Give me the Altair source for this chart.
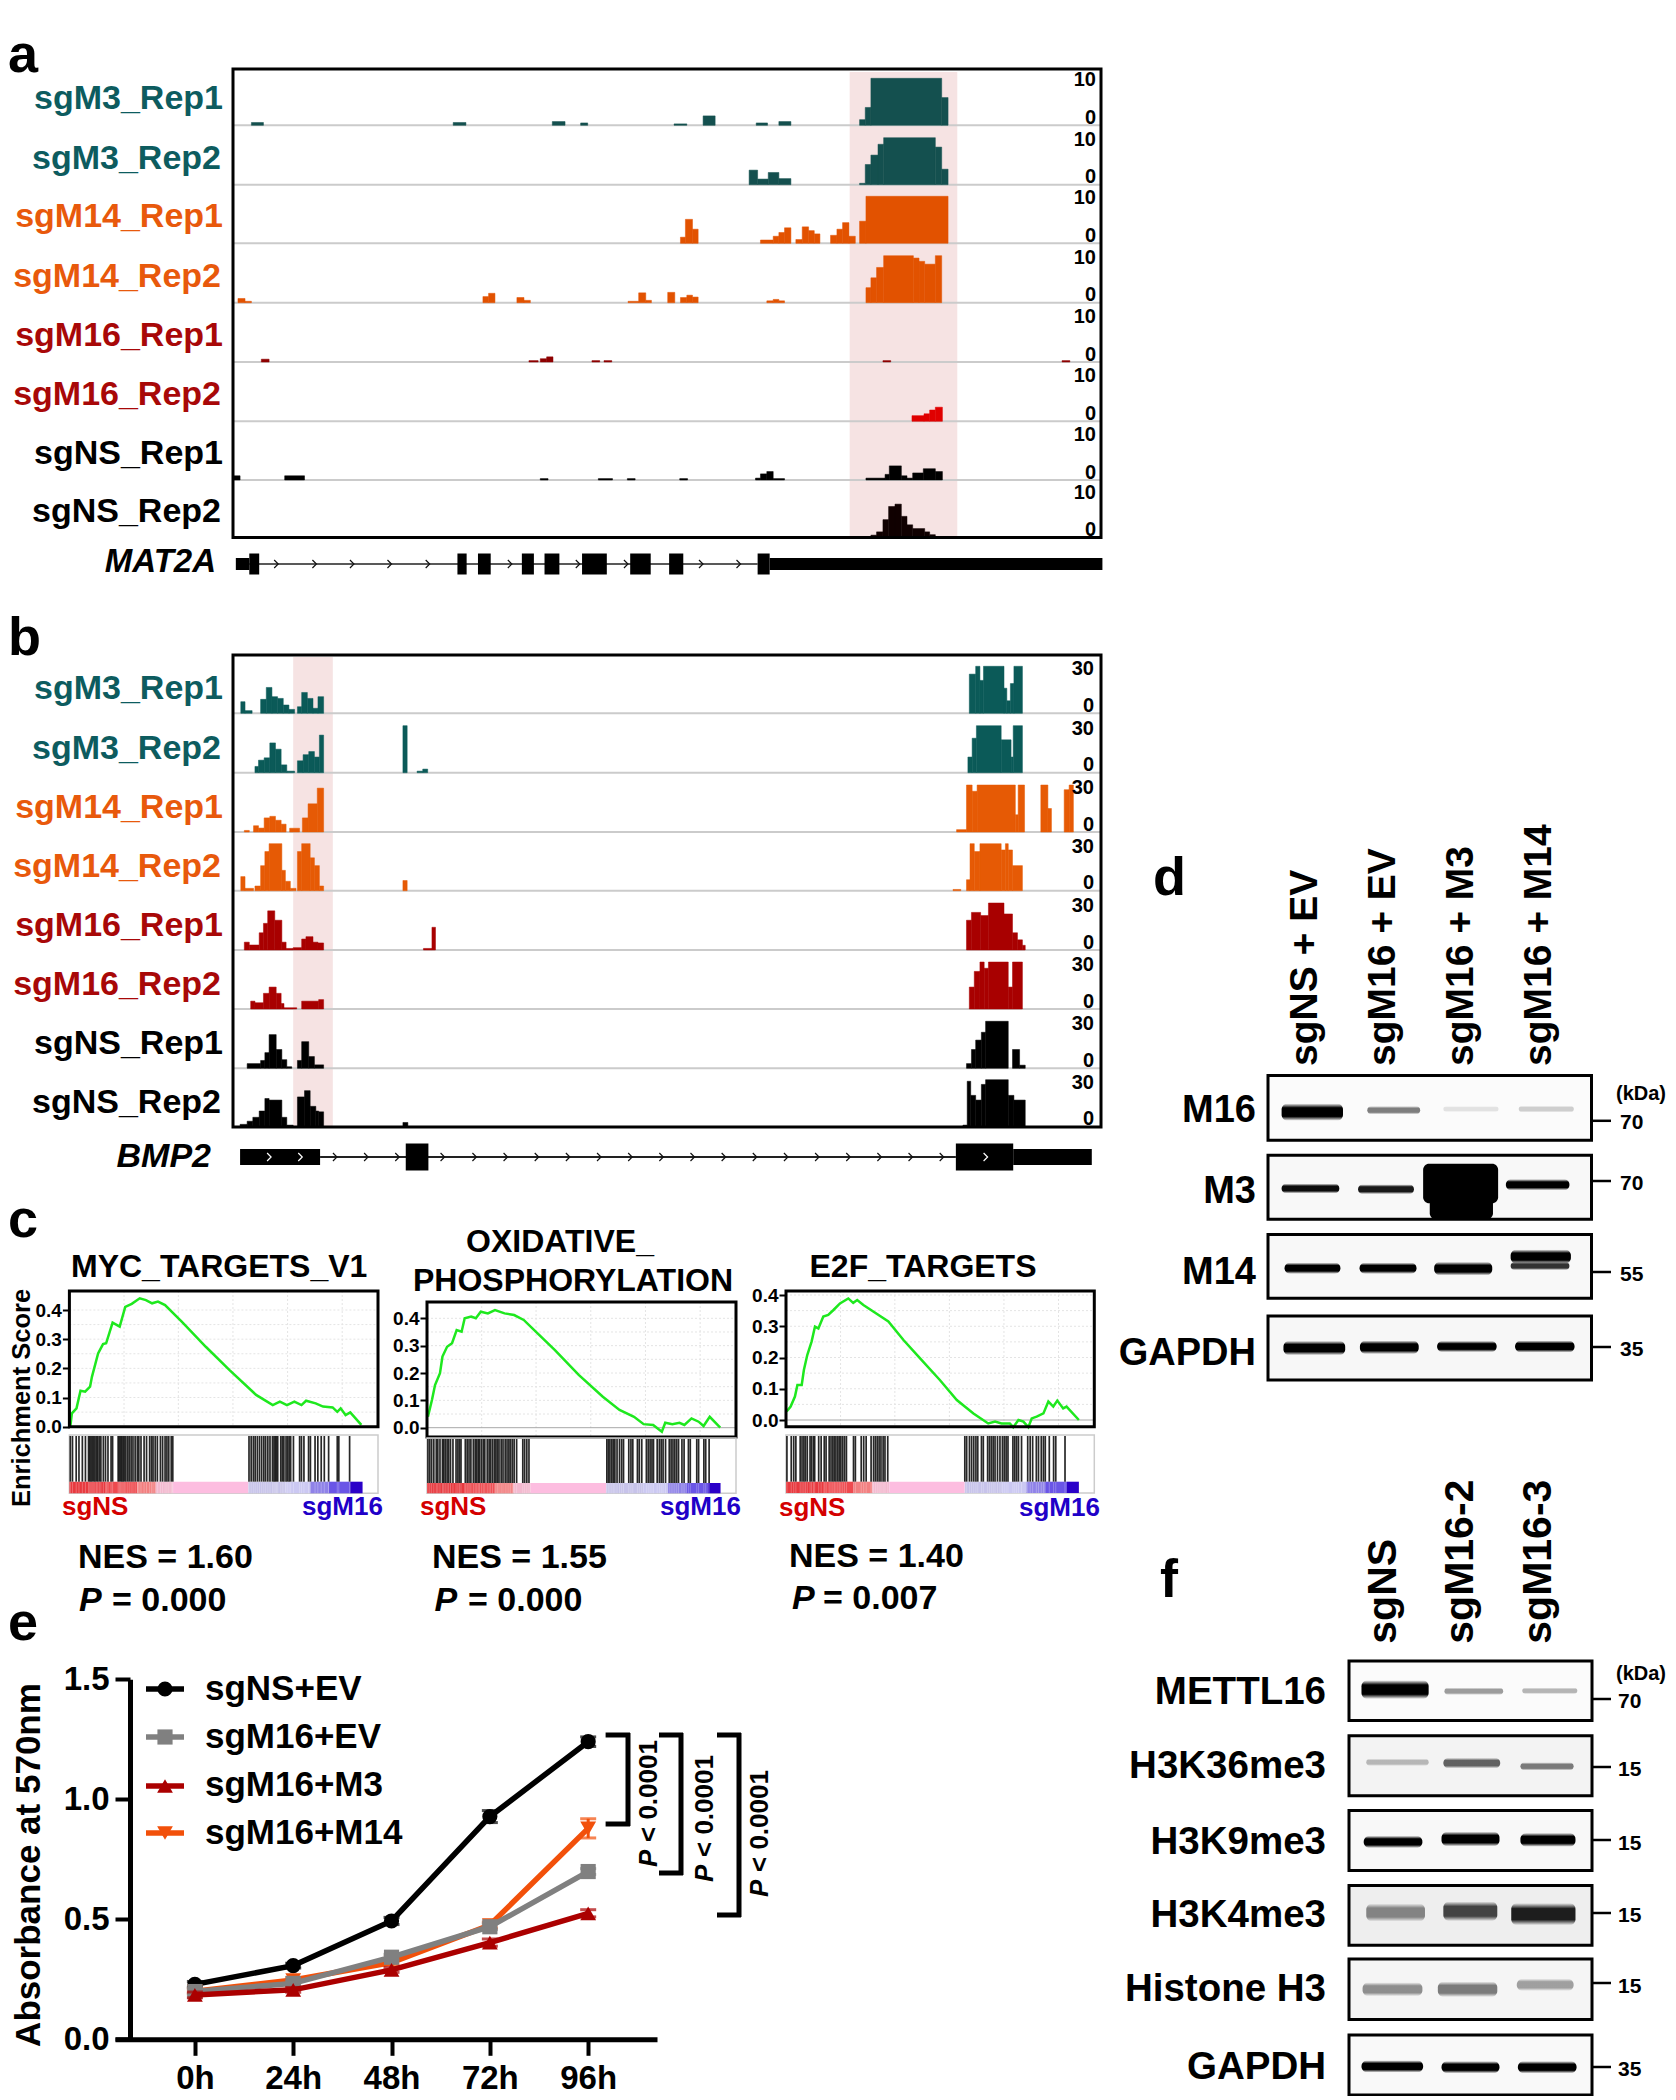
import altair as alt
import pandas as pd

W, H = 1660, 2088
FONT = "Liberation Sans"

TRACK_NAMES = ["sgM3_Rep1", "sgM3_Rep2", "sgM14_Rep1", "sgM14_Rep2", "sgM16_Rep1", "sgM16_Rep2", "sgNS_Rep1", "sgNS_Rep2"]
LABEL_COLORS = ["#0d5c5f", "#0d5c5f", "#e8590c", "#e8590c", "#a80808", "#a80808", "#000000", "#000000"]

# (start, end, signal) along the locus window, 0-10 scale
A_M3_1 = [(355,372,.6),(640,658,.6),(780,798,.8),(820,830,.5),(952,970,.3),(993,1010,2),(1068,1084,.5),(1100,1117,.8),(1214,1222,1.2),(1222,1230,3.8),(1230,1330,10),(1330,1339,5.9)]
A_M3_2 = [(1058,1070,3.1),(1070,1085,1.2),(1085,1100,2.6),(1100,1117,1.3),(1214,1222,.3),(1222,1230,4.3),(1230,1240,6.3),(1240,1248,8.6),(1248,1321,10),(1321,1330,8),(1330,1339,3.3)]
A_M14_1 = [(961,968,1.3),(968,978,5.1),(978,986,3),(1074,1092,.7),(1092,1100,1.5),(1100,1108,2.3),(1108,1117,3.3),(1124,1133,.8),(1133,1142,3.5),(1142,1150,2.7),(1150,1158,2),(1173,1182,1.7),(1182,1190,3),(1190,1199,4.4),(1199,1208,1.5),(1214,1223,4.7),(1223,1339,10)]
A_M14_2 = [(336,346,.9),(346,355,.3),(682,690,1.3),(690,699,2),(730,740,1.1),(740,749,.5),(887,902,.3),(902,912,2.1),(912,920,.5),(943,953,2.2),(961,970,1.1),(970,978,1.6),(978,986,1.2),(1083,1092,.4),(1092,1100,.7),(1100,1108,.4),(1223,1230,3.2),(1230,1238,5.3),(1238,1248,7.5),(1248,1290,10),(1290,1298,9.5),(1298,1306,8.8),(1306,1321,8.2),(1321,1330,10)]
A_M16_1 = [(369,380,.6),(747,760,.3),(763,772,.7),(772,781,1.1),(836,847,.3),(853,864,.3),(1247,1258,.3),(1500,1511,.3)]
A_M16_2 = [(1288,1305,1.2),(1305,1313,1.6),(1313,1321,2.4),(1321,1331,3)]
A_NS_1 = [(329,339,.9),(402,430,.9),(763,774,.3),(845,865,.3),(886,897,.3),(960,971,.3),(1067,1074,.4),(1074,1083,1.3),(1083,1092,1.8),(1092,1108,.3),(1223,1250,.4),(1250,1256,1.2),(1256,1273,3),(1273,1281,.9),(1281,1289,.4),(1289,1304,1.5),(1304,1321,2.4),(1321,1331,1.8)]
A_NS_2 = [(428,437,.2),(445,455,.2),(1230,1238,.5),(1238,1247,1.2),(1247,1255,3.8),(1255,1264,6.6),(1264,1273,7.1),(1273,1281,4.5),(1281,1289,2.7),(1289,1306,1.9),(1306,1313,1.2),(1313,1321,.6)]
A_TRACKS = [A_M3_1, A_M3_2, A_M14_1, A_M14_2, A_M16_1, A_M16_2, A_NS_1, A_NS_2]
A_FILLS = ["#14504f", "#14504f", "#e25200", "#e25200", "#8e0000", "#e00000", "#000000", "#100000"]

# (start, end, signal), 0-30 scale
B_M3_1 = [(340,346,7.4),(346,356,1.7),(368,376,8.9),(376,384,16.5),(384,392,10.6),(392,400,9.5),(400,408,5.3),(408,416,2.5),(420,426,4.2),(426,434,13.3),(434,442,9.5),(442,449,3.2),(449,457,10.6),(1369,1378,25),(1378,1384,30),(1384,1389,21),(1389,1418,30),(1418,1422,16),(1422,1427,8),(1427,1432,19),(1432,1444,30)]
B_M3_2 = [(360,365,4),(365,373,8),(373,381,9.5),(381,389,19),(389,397,15),(397,405,5),(405,416,1),(420,428,7.6),(428,436,11.5),(436,444,13.5),(444,451,10),(451,457,24),(569,575,30),(589,597,1),(597,604,2.3),(1367,1373,10),(1373,1379,22),(1379,1414,30),(1414,1428,21),(1428,1431,10),(1431,1444,30)]
B_M14_1 = [(345,352,1),(358,365,4),(365,373,2.5),(373,381,9),(381,389,10),(389,397,7.5),(397,404,5),(409,423,2.4),(427,435,9),(435,448,18),(448,457,28),(1351,1365,1.5),(1365,1373,30),(1373,1380,26),(1380,1434,30),(1434,1438,11),(1438,1447,30),(1470,1480,30),(1480,1485,15),(1503,1510,27),(1510,1516,30)]
B_M14_2 = [(340,346,9),(346,358,1.5),(360,368,3),(368,374,16),(374,380,25),(380,398,30),(398,403,13),(403,410,6),(410,418,1.5),(420,426,25),(426,438,30),(438,444,21),(444,451,16),(451,457,3),(569,575,6.5),(1346,1357,.8),(1365,1370,7),(1370,1376,30),(1376,1384,25),(1384,1414,30),(1414,1420,26),(1420,1424,30),(1424,1430,26),(1430,1444,16)]
B_M16_1 = [(345,352,5),(352,366,3.2),(366,372,11),(372,378,17),(378,388,25),(388,398,19),(398,404,5),(404,414,1),(414,426,1.5),(426,432,7),(432,442,8.5),(442,449,5),(449,457,4.5),(598,610,1),(610,615,14.5),(1365,1372,19),(1372,1385,24),(1385,1396,22),(1396,1418,30),(1418,1430,23),(1430,1437,11),(1437,1444,6.5),(1444,1448,3)]
B_M16_2 = [(354,360,5),(360,372,4),(372,380,10),(380,390,14),(390,397,10),(397,401,3.5),(401,419,.8),(426,450,5),(450,457,6),(1369,1376,14),(1376,1384,24),(1384,1390,30),(1390,1396,26),(1396,1424,30),(1424,1430,14),(1430,1444,30)]
B_NS_1 = [(349,368,3),(368,374,5),(374,380,10),(380,390,21.5),(390,398,12),(398,405,5.5),(405,412,1),(420,426,5),(426,436,17),(436,444,7.5),(444,457,2.2),(1365,1372,3),(1372,1378,12),(1378,1386,18),(1386,1392,23),(1392,1424,30),(1430,1440,12),(1440,1448,2)]
B_NS_2 = [(339,349,1.5),(349,357,3.5),(357,366,6),(366,374,10),(374,380,18),(380,398,17),(398,405,6),(405,414,1),(420,430,19),(430,438,23),(438,446,13),(446,450,10),(450,457,9.5),(569,576,2.7),(1360,1366,1),(1366,1371,29),(1371,1378,20),(1378,1386,17),(1386,1392,27),(1392,1424,30),(1424,1432,20),(1432,1448,17)]
B_TRACKS = [B_M3_1, B_M3_2, B_M14_1, B_M14_2, B_M16_1, B_M16_2, B_NS_1, B_NS_2]
B_FILLS = ["#0b5a58", "#0b5a58", "#e65a05", "#e65a05", "#a80000", "#a80000", "#000000", "#000000"]

MAT2A_THIN = [(333,352),(1087,1557)]
MAT2A_EXON = [(352,366),(646,659),(675,693),(737,754),(769,790),(822,857),(890,919),(945,965),(1070,1087)]
MAT2A_CHEV = [390,444,497,550,604,720,816,884,990,1043]
BMP2_THIN = [(339,452),(1431,1542)]
BMP2_EXON = [(573,605),(1350,1431)]
BMP2_CHEV = [473,517,561,625,670,714,758,802,846,890,934,978,1022,1066,1110,1154,1198,1242,1286,1330]
BMP2_CHEV_W = [380,424,1392]

# GSEA: rank in list (%) and running enrichment score
MYC_RANK = [.3,.8,2.3,3.6,5.1,6.7,7.3,9.3,10.9,11.9,14,16.3,18.1,20.2,22.8,24.8,26.8,28.7,31,36.4,44.2,51.9,60.5,65.9,68.2,70.5,72.9,75.2,76.7,79.8,82.2,85.3,86.8,87.9,89.5,91,94.6]
MYC_ES = [0,.046,.063,.123,.12,.137,.171,.251,.283,.286,.357,.343,.411,.421,.44,.434,.423,.429,.417,.36,.274,.194,.109,.074,.086,.074,.086,.074,.089,.08,.069,.066,.051,.063,.04,.049,.006]
OX_RANK = [.3,1.6,2.6,4.2,5,6.5,8.1,9.6,11.2,12.2,14.3,15.8,17.4,19.7,22,25.1,28.2,31.3,35.2,41.4,49.1,56.9,62.3,67,70.1,73.2,76,77.1,79.4,81.7,83.3,85.6,87.9,89.5,91.5,94.9]
OX_ES = [.04,.101,.156,.199,.26,.296,.309,.357,.351,.4,.406,.4,.424,.418,.43,.418,.412,.394,.351,.284,.193,.113,.065,.04,.013,.01,-.015,.018,.013,.018,.01,.034,.022,.006,.04,0]
E2F_RANK = [.2,1.5,2.9,3.7,5.1,5.8,6.9,8.3,9.4,10.5,12.1,13.7,15.4,17.5,20.2,21.8,23.1,25.1,28.3,33.2,38.1,43.5,49.9,55.4,60.8,65.6,67.8,69.9,72.6,73.7,75.4,77,78.6,79.7,81.3,83.5,85.1,86.7,88,89.9,91,95]
E2F_ES = [.027,.043,.075,.112,.112,.16,.208,.251,.299,.293,.331,.336,.352,.373,.389,.375,.384,.368,.347,.315,.256,.197,.128,.064,.021,-.011,-.005,-.011,-.011,-.023,0,-.005,-.023,.005,.011,.021,.059,.043,.062,.037,.043,0]
MYC_HITS = [.3,1,2.2,3.1,4.2,5.2,6.2,6.6,7,7.4,7.9,8.3,8.8,9.2,9.7,10.2,11,11.7,12.5,13.5,14,15.8,16.2,16.6,17,17.4,17.8,18.3,18.9,19.4,20,20.6,21.3,22,22.5,23.2,24.2,25,26,26.6,27.1,27.8,28.5,29.5,30.2,31,31.6,32.2,33,33.5,58.2,58.9,59.6,60.2,60.9,61.6,62.3,63,63.6,64.3,65,65.8,66.3,66.7,67.1,67.5,68.5,69,69.5,70.2,70.7,71.2,71.7,72.6,74.6,75.2,76,77.5,78.1,79.6,80.5,81.6,82.6,84,86.8,87.3,90.8]
OX_HITS = [.3,.9,1.5,2.2,3,3.5,4.2,5,5.4,5.9,6.5,7,7.6,8.4,9.4,10,10.5,11,12.4,13,13.6,14.2,15,15.6,16.1,16.6,17,17.6,18.2,18.7,19.5,20.1,20.6,21.2,21.8,22.3,22.8,23.3,24,24.6,25.3,25.9,26.5,27,27.6,28.2,29,31,31.6,32.3,33,58.2,58.7,59.2,59.8,60.3,60.8,61.5,62.3,63,63.6,65.3,66,66.6,68.1,68.7,69.5,71,71.6,72.2,72.8,73.3,74.5,75.2,75.8,76.4,77.2,78.4,79,79.6,80.2,80.8,81.4,82.5,83.2,84.6,85.2,87.3,87.9,89.6,90.2,91.3]
E2F_HITS = [.3,1.7,2.5,3.2,4.6,5.2,5.8,6.3,6.9,7.8,8.3,8.9,9.3,10.6,11.4,12.4,13,14,14.6,15.2,15.7,16.2,16.8,17.3,17.8,18.4,19,19.6,21.9,22.5,24.4,25.2,26,27.6,28.4,29,29.6,30.2,30.8,31.5,32.1,33,58,58.6,59.5,60.2,60.9,61.6,62.2,63.4,64,65.4,66,66.6,67.2,67.8,68.6,69.4,70.2,70.8,71.4,72,73.6,74.2,74.8,75.4,76.4,78.4,79.2,80,81.2,81.9,82.8,83.5,84.1,85.4,86.8,87.5,90.5]
BAR_START = [0,12,22,28,33.5,58,70,78,84,91]
BAR_END = [12,22,28,33.5,58,70,78,84,91,95]
BAR_COLOR = ["#e8393f","#ee4a4f","#f27f80","#f3b9cf","#fdbde0","#c7c3ea","#cbc8f2","#8f82e8","#6a55e6","#2a00c8"]

# Growth curves
HOURS = [0,24,48,72,96]
NS_EV = [.229,.307,.493,.928,1.24]
M16_EV = [.199,.233,.342,.469,.699]
M16_M3 = [.185,.206,.289,.403,.525]
M16_M14 = [.2,.247,.32,.476,.879]
NS_ERR = [.012,.01,.015,.025,.02]
EV_ERR = [.012,.01,.012,.012,.012]
M3_ERR = [.012,.01,.01,.015,.015]
M14_ERR = [.01,.01,.01,.012,.04]

# Blot bands: start, end, centre, thickness, density
D_BANDS = [(495,662,803,46,1),(728,872,798,22,.5),(935,1085,795,16,.1),(1140,1290,795,18,.18),
           (495,652,1006,26,.95),(703,855,1008,26,.9),(1105,1278,996,30,1),
           (503,655,1218,30,1),(707,862,1218,30,1),(910,1068,1219,36,1),(1118,1282,1187,38,1),(1118,1278,1212,22,.8),
           (500,668,1430,38,1),(708,868,1428,36,1),(918,1080,1426,30,1),(1130,1292,1426,32,1)]
F_BANDS = [(712,895,562,46,1),(938,1098,566,18,.38),(1150,1300,565,16,.28),
           (725,895,740,18,.25),(935,1090,742,26,.6),(1145,1290,750,20,.5),
           (718,878,935,30,1),(930,1088,928,36,1),(1145,1295,930,34,1),
           (725,885,1108,44,.45),(935,1082,1105,48,.72),(1120,1295,1112,54,.88),
           (715,878,1296,34,.42),(920,1082,1296,38,.5),(1135,1290,1285,30,.35),
           (712,880,1485,30,1),(930,1088,1487,30,1),(1138,1298,1487,30,1)]
D_BG = ["#fbfbfb", "#f8f8f8", "#f8f8f8", "#f7f7f7"]
F_BG = ["#fbfbfb", "#f3f3f3", "#f8f8f8", "#eeeeee", "#f5f5f5", "#f9f9f9"]

layers = []
def px(v): return v - 8

def txt(s, x, y, size, weight="bold", color="#000000", align="left", baseline="alphabetic", angle=0, italic=False):
    kw = dict(font=FONT, fontSize=size, fontWeight=weight, color=color, align=align, baseline=baseline)
    if angle: kw["angle"] = angle
    if italic: kw["fontStyle"] = "italic"
    layers.append(alt.Chart(pd.DataFrame({"t": [s]})).mark_text(**kw).encode(
        text="t:N", x=alt.value(px(x)), y=alt.value(px(y))))

def box(x0, y0, x1, y1, stroke=None, sw=3, fill="transparent"):
    kw = dict(fill=fill)
    if stroke:
        kw.update(stroke=stroke, strokeWidth=sw)
    layers.append(alt.Chart(pd.DataFrame({"a": [0]})).mark_rect(**kw).encode(
        x=alt.value(px(x0)), x2=alt.value(px(x1)), y=alt.value(px(y0)), y2=alt.value(px(y1))))

def hv(x0, y0, x1, y1, color="#000000", sw=5):
    layers.append(alt.Chart(pd.DataFrame({"a": [0]})).mark_rule(color=color, strokeWidth=sw).encode(
        x=alt.value(px(x0)), x2=alt.value(px(x1)), y=alt.value(px(y0)), y2=alt.value(px(y1))))

def qs(dom, a, b):
    return alt.Scale(domain=dom, range=[px(a), px(b)], nice=False, zero=False)

XDOM = [329, 1555]
XL, XR = 233, 1101

def tracks(all_tracks, fills, bases, vmax, top_label, top_y, pink, lab_dy):
    layers.append(alt.Chart(pd.DataFrame({"s": [pink[0]], "e": [pink[1]]})).mark_rect(color="#f6e3e3").encode(
        x=alt.X("s:Q", scale=qs(XDOM, XL, XR), axis=None), x2="e:Q",
        y=alt.value(px(pink[2])), y2=alt.value(px(pink[3]))))
    for i, tr in enumerate(all_tracks):
        b = bases[i]
        if i < 7:
            hv(XL, b, XR, b, color="#cbcbcb", sw=2)
        df = pd.DataFrame(tr, columns=["s", "e", "v"]).assign(z=0)
        layers.append(alt.Chart(df).mark_rect(color=fills[i], stroke=fills[i], strokeWidth=.5).encode(
            x=alt.X("s:Q", scale=qs(XDOM, XL, XR), axis=None),
            x2="e:Q",
            y=alt.Y("v:Q", scale=qs([0, vmax], b, b - 47), axis=None),
            y2="z:Q"))
        right = 223 if i % 2 == 0 else 221
        txt(TRACK_NAMES[i], right, b + lab_dy, 34, color=LABEL_COLORS[i], align="right")
        txt(top_label, 1096 if vmax == 10 else 1094, b + top_y, 20, align="right", baseline="middle")
        txt("0", 1096 if vmax == 10 else 1094, b - 7.5, 20, align="right", baseline="middle")

def gene(thin, exon, chev, chev_w, line_y, thin_h, exon_h, line_from, line_to, lw):
    sc = qs(XDOM, XL, XR)
    layers.append(alt.Chart(pd.DataFrame({"s": [line_from], "e": [line_to]})).mark_rule(color="#222222", strokeWidth=lw).encode(
        x=alt.X("s:Q", scale=sc, axis=None), x2="e:Q", y=alt.value(px(line_y))))
    for rows, h in ((thin, thin_h), (exon, exon_h)):
        layers.append(alt.Chart(pd.DataFrame(rows, columns=["s", "e"])).mark_rect(color="#000000").encode(
            x=alt.X("s:Q", scale=sc, axis=None), x2="e:Q",
            y=alt.value(px(line_y - h / 2)), y2=alt.value(px(line_y + h / 2))))
    shape = "M-0.5,-1L0.5,0L-0.5,1"
    for rows, col in ((chev, "#111111"), (chev_w, "#ffffff")):
        if rows:
            layers.append(alt.Chart(pd.DataFrame({"s": rows})).mark_point(shape=shape, filled=False, stroke=col, strokeWidth=1.2, size=64, opacity=1).encode(
                x=alt.X("s:Q", scale=sc, axis=None), y=alt.value(px(line_y))))

# ---------- panel a
txt("a", 8, 72, 54)
tracks(A_TRACKS, A_FILLS, [125.3, 184.7, 243.3, 302.7, 362, 421.3, 480, 537.5], 10, "10", -45, (1200, 1352, 72, 537), -16)
box(XL, 69, XR, 537.5, stroke="#000000", sw=3)
txt("MAT2A", 216, 572, 33, italic=True, align="right")
gene(MAT2A_THIN, MAT2A_EXON, MAT2A_CHEV, [], 564, 12, 21, 352, 1070, 1.5)

# ---------- panel b
txt("b", 8, 655, 54)
tracks(B_TRACKS, B_FILLS, [713.3, 772.7, 832, 890.7, 950, 1009, 1068.3, 1126.7], 30, "30", -44, (414, 470, 657, 1127), -14)
box(XL, 655, XR, 1127, stroke="#000000", sw=3)
txt("BMP2", 211, 1167, 34, italic=True, align="right")
gene(BMP2_THIN, BMP2_EXON, BMP2_CHEV, BMP2_CHEV_W, 1157, 16, 27, 452, 1350, 2)

# ---------- panel c
txt("c", 8, 1237, 54)
txt("Enrichment Score", 30, 1398, 25.5, angle=270, align="center")
GSEA = [
    dict(r=MYC_RANK, e=MYC_ES, h=MYC_HITS, xl=69.4, xr=378, top=1291, bot=1426.7, y0=1426.7, y4=1310, rt=1436, rb=1481.7, bb=1493.3, zero=False),
    dict(r=OX_RANK, e=OX_ES, h=OX_HITS, xl=427, xr=736, top=1302, bot=1437, y0=1427.7, y4=1318.3, rt=1439, rb=1483, bb=1493.3, zero=True),
    dict(r=E2F_RANK, e=E2F_ES, h=E2F_HITS, xl=786, xr=1094.3, top=1291, bot=1426.7, y0=1420, y4=1295, rt=1436, rb=1481.7, bb=1493, zero=True),
]
for g in GSEA:
    sx = qs([0, 100], g["xl"], g["xr"])
    sy = qs([0, .4], g["y0"], g["y4"])
    layers.append(alt.Chart(pd.DataFrame({"v": [17.7, 35.3, 53, 70.7, 88.4]})).mark_rule(color="#e4e4e4", strokeDash=[2, 2], strokeWidth=1).encode(
        x=alt.X("v:Q", scale=sx, axis=None), y=alt.value(px(g["top"])), y2=alt.value(px(g["bot"]))))
    layers.append(alt.Chart(pd.DataFrame({"v": [.05, .1, .15, .2, .25, .3, .35, .4]})).mark_rule(color="#e4e4e4", strokeDash=[2, 2], strokeWidth=1).encode(
        y=alt.Y("v:Q", scale=sy, axis=None), x=alt.value(px(g["xl"])), x2=alt.value(px(g["xr"]))))
    if g["zero"]:
        layers.append(alt.Chart(pd.DataFrame({"v": [0]})).mark_rule(color="#a8a8a8", strokeWidth=1).encode(
            y=alt.Y("v:Q", scale=sy, axis=None), x=alt.value(px(g["xl"])), x2=alt.value(px(g["xr"]))))
    layers.append(alt.Chart(pd.DataFrame({"r": g["r"], "e": g["e"]})).mark_line(color="#1ee81e", strokeWidth=2.5).encode(
        x=alt.X("r:Q", scale=sx, axis=None),
        y=alt.Y("e:Q", scale=sy, axis=alt.Axis(orient="left", offset=-px(g["xl"]), values=[0, .1, .2, .3, .4], format=".1f", title=None,
            domain=False, tickColor="#000000", tickWidth=2, tickSize=7, labelFont=FONT, labelFontSize=19, labelFontWeight="bold",
            labelColor="#000000", labelPadding=1, grid=False, labelOverlap=False, labelFlush=False))))
    box(g["xl"], g["top"], g["xr"], g["bot"], stroke="#000000", sw=3)
    box(g["xl"], g["rt"] - 1, g["xr"], g["bb"], stroke="#cccccc", sw=1.5)
    layers.append(alt.Chart(pd.DataFrame({"s": BAR_START, "e": BAR_END, "c": BAR_COLOR})).mark_rect().encode(
        x=alt.X("s:Q", scale=sx, axis=None), x2="e:Q",
        y=alt.value(px(g["rb"])), y2=alt.value(px(g["bb"])),
        color=alt.Color("c:N", scale=None, legend=None)))
    layers.append(alt.Chart(pd.DataFrame({"h": g["h"]})).mark_rule(color="#111111", strokeWidth=1.7, opacity=.9).encode(
        x=alt.X("h:Q", scale=sx, axis=None), y=alt.value(px(g["rt"])), y2=alt.value(px(g["rb"]))))
    layers.append(alt.Chart(pd.DataFrame({"h": g["h"]})).mark_rule(color="#ffffff", strokeWidth=1, opacity=.25).encode(
        x=alt.X("h:Q", scale=sx, axis=None), y=alt.value(px(g["rb"])), y2=alt.value(px(g["bb"]))))

txt("MYC_TARGETS_V1", 71, 1277, 32)
txt("OXIDATIVE_", 560, 1252, 32, align="center")
txt("PHOSPHORYLATION", 573, 1291, 32, align="center")
txt("E2F_TARGETS", 923, 1277, 32, align="center")
for xa, xb, yb in ((62, 302, 1515), (420, 660, 1515), (779, 1019, 1516)):
    txt("sgNS", xa, yb, 26, color="#d40000")
    txt("sgM16", xb, yb, 26, color="#2000c8")
txt("NES = 1.60", 78, 1568, 34)
txt("NES = 1.55", 432, 1568, 34)
txt("NES = 1.40", 789, 1567, 34)
for xp, xe, yb, s in ((79, 112, 1611, "= 0.000"), (434.5, 468, 1611, "= 0.000"), (792, 823, 1609, "= 0.007")):
    txt("P", xp, yb, 34, italic=True)
    txt(s, xe, yb, 34)

# ---------- panel e
txt("e", 8, 1640, 54)
txt("Absorbance at 570nm", 40, 1865, 35, angle=270, align="center")
SX = qs([-19.5, 112.8], 115, 657)
SY = qs([0, 1.5], 2039.3, 1679.3)
axis_common = dict(title=None, domainColor="#000000", domainWidth=5, tickColor="#000000", tickWidth=4, labelFont=FONT,
                   labelFontSize=33, labelFontWeight="bold", labelColor="#000000", grid=False, labelOverlap=False, labelFlush=False)
AX_X = alt.Axis(orient="bottom", offset=-(H - px(2039.3)), values=HOURS, labelExpr="datum.value + 'h'", tickSize=16, labelPadding=7, **axis_common)
AX_Y = alt.Axis(orient="left", offset=-px(130), values=[0, .5, 1, 1.5], format=".1f", tickSize=15, labelPadding=6, **axis_common)
layers.append(alt.Chart(pd.DataFrame({"h": HOURS, "v": [0] * 5})).mark_point(opacity=0).encode(
    x=alt.X("h:Q", scale=SX, axis=AX_X), y=alt.Y("v:Q", scale=SY, axis=AX_Y)))

SERIES = [
    ("sgNS+EV", NS_EV, NS_ERR, "#000000", "circle", 230, 1689, 1700),
    ("sgM16+M14", M16_M14, M14_ERR, "#f2500a", "triangle-down", 250, 1833, 1844),
    ("sgM16+EV", M16_EV, EV_ERR, "#808080", "square", 230, 1737, 1748),
    ("sgM16+M3", M16_M3, M3_ERR, "#ab0000", "triangle-up", 250, 1786, 1796),
]
for name, vals, errs, col, shp, size, ly, lb in SERIES:
    df = pd.DataFrame({"h": HOURS, "v": vals, "lo": [a - b for a, b in zip(vals, errs)], "hi": [a + b for a, b in zip(vals, errs)]})
    X = alt.X("h:Q", scale=SX, axis=None)
    layers.append(alt.Chart(df).mark_rule(color=col, strokeWidth=3).encode(x=X, y=alt.Y("lo:Q", scale=SY, axis=None), y2="hi:Q"))
    for f in ("lo", "hi"):
        layers.append(alt.Chart(df).mark_tick(color=col, orient="horizontal", size=16, thickness=3).encode(x=X, y=alt.Y(f"{f}:Q", scale=SY, axis=None)))
    layers.append(alt.Chart(df).mark_line(color=col, strokeWidth=5.5).encode(x=X, y=alt.Y("v:Q", scale=SY, axis=None)))
    layers.append(alt.Chart(df).mark_point(shape=shp, filled=True, color=col, size=size, opacity=1).encode(x=X, y=alt.Y("v:Q", scale=SY, axis=None)))
    hv(146, ly, 184, ly, color=col, sw=5.5)
    layers.append(alt.Chart(pd.DataFrame({"a": [0]})).mark_point(shape=shp, filled=True, color=col, size=size, opacity=1).encode(
        x=alt.value(px(165)), y=alt.value(px(ly))))
    txt(name, 205, lb, 35)

for x0, x1, yb, tx, ty in ((605.6, 630, 1824, 657, 1867), (659, 683, 1873, 713, 1882), (717, 741, 1915, 768, 1897)):
    hv(x0, 1735, x1, 1735)
    hv(x0, yb, x1, yb)
    hv(x1 - 2, 1733, x1 - 2, yb + 2)
    txt("P", tx, ty, 26, angle=270, italic=True)
    txt("< 0.0001", tx, ty - 25, 26, angle=270)

# ---------- blots
GRAD = alt.Gradient(gradient="linear", x1=0, x2=0, y1=0, y2=1, stops=[
    alt.GradientStop(color="rgba(0,0,0,0)", offset=0),
    alt.GradientStop(color="#000000", offset=.25),
    alt.GradientStop(color="#000000", offset=.75),
    alt.GradientStop(color="rgba(0,0,0,0)", offset=1)])

def blot(bands, xs, xd, ys, yd, rows, bg, extra=()):
    sx = qs(xd, *xs)
    sy = qs(yd, *ys)
    for (t, b), col in zip(rows, bg):
        ya = ys[0] + (t - yd[0]) * (ys[1] - ys[0]) / (yd[1] - yd[0])
        yb = ys[0] + (b - yd[0]) * (ys[1] - ys[0]) / (yd[1] - yd[0])
        box(xs[0], ya, xs[1], yb, fill=col)
    df = pd.DataFrame(bands, columns=["s", "e", "c", "t", "d"])
    df["a"] = df["c"] - df["t"] / 2
    df["b"] = df["c"] + df["t"] / 2
    layers.append(alt.Chart(df).mark_rect(color=GRAD, cornerRadius=6).encode(
        x=alt.X("s:Q", scale=sx, axis=None), x2="e:Q",
        y=alt.Y("a:Q", scale=sy, axis=None), y2="b:Q",
        opacity=alt.Opacity("d:Q", scale=None, legend=None)))
    if len(extra):
        edf = pd.DataFrame(extra, columns=["s", "e", "a", "b"])
        layers.append(alt.Chart(edf).mark_rect(color="#000000", cornerRadius=6).encode(
            x=alt.X("s:Q", scale=sx, axis=None), x2="e:Q",
            y=alt.Y("a:Q", scale=sy, axis=None), y2="b:Q"))
    for t, b in rows:
        ya = ys[0] + (t - yd[0]) * (ys[1] - ys[0]) / (yd[1] - yd[0])
        yb = ys[0] + (b - yd[0]) * (ys[1] - ys[0]) / (yd[1] - yd[0])
        box(xs[0], ya, xs[1], yb, stroke="#000000", sw=3)

txt("d", 1153, 895, 54)
blot(D_BANDS, (1268, 1591.5), [458, 1338], (1075.6, 1380), [706, 1515],
     [(706, 878), (918, 1088), (1128, 1298), (1345, 1515)], D_BG,
     extra=[(880, 1084, 940, 1045), (898, 1070, 1020, 1088)])
for s, xb, in (("sgNS + EV", 1316.8), ("sgM16 + EV", 1394.6), ("sgM16 + M3", 1472.9), ("sgM16 + M14", 1551)):
    txt(s, xb, 1066, 39, angle=270)
for s, yb in (("M16", 1122), ("M3", 1203), ("M14", 1284), ("GAPDH", 1365)):
    txt(s, 1256, yb, 38, align="right")
txt("(kDa)", 1616, 1100.4, 20)
for s, yt, yb in (("70", 1120.8, 1129), ("70", 1181, 1190), ("55", 1272, 1281), ("35", 1347, 1356)):
    hv(1592, yt, 1611, yt, sw=2.5)
    txt(s, 1620, yb, 21)

txt("f", 1160, 1597, 54)
blot(F_BANDS, (1349, 1592), [678, 1340], (1661, 2095), [492, 1555],
     [(492, 638), (675, 822), (858, 1005), (1042, 1188), (1222, 1370), (1408, 1555)], F_BG)
for s, xb in (("sgNS", 1395.7), ("sgM16-2", 1473), ("sgM16-3", 1551)):
    txt(s, xb, 1643.7, 41, angle=270)
for s, yb in (("METTL16", 1704), ("H3K36me3", 1778), ("H3K9me3", 1854), ("H3K4me3", 1927), ("Histone H3", 2001), ("GAPDH", 2079)):
    txt(s, 1326, yb, 38.5, align="right")
txt("(kDa)", 1616, 1680, 20)
for s, yt, yb in (("70", 1699, 1708), ("15", 1767, 1776), ("15", 1840, 1850), ("15", 1913, 1922), ("15", 1983, 1992.6), ("35", 2067, 2076)):
    hv(1592, yt, 1611, yt, sw=2.5)
    txt(s, 1618, yb, 21)

chart = alt.layer(*layers).resolve_scale(x="independent", y="independent").properties(
    width=W, height=H, padding=0, autosize=alt.AutoSizeParams(type="none"), background="#ffffff"
).configure_view(strokeWidth=0)
chart.save("out.html", embed_options={"renderer": "svg", "actions": False})
